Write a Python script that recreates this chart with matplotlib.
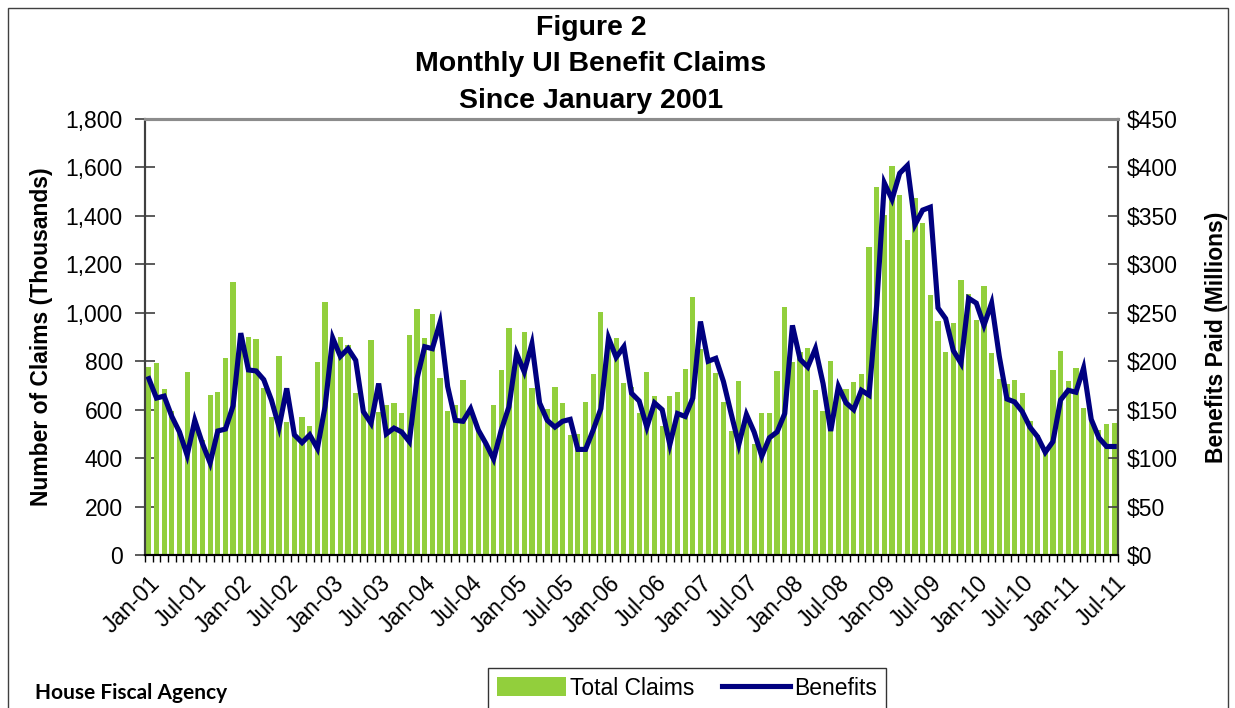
import numpy as np
import pandas as pd
import matplotlib
matplotlib.use("Agg")
import matplotlib.pyplot as plt
from matplotlib.patches import Rectangle
from matplotlib.ticker import FuncFormatter, FixedLocator

plt.rcParams['font.family'] = ['Liberation Sans', 'DejaVu Sans']

# monthly data, Jan-2001 .. Jul-2011
months = pd.date_range('2001-01-01', periods=127, freq='MS')
claims = [777, 791, 684, 596, 508, 754, 556, 475, 660, 674, 815, 1126,
          905, 898, 890, 688, 568, 821, 550, 500, 568, 532, 798, 1046,
          890, 898, 867, 670, 592, 887, 589, 619, 626, 585, 908, 1014,
          894, 995, 732, 594, 619, 722, 600, 516, 460, 619, 764, 936,
          832, 919, 688, 628, 601, 692, 626, 495, 498, 630, 747, 1004,
          896, 894, 709, 695, 588, 757, 658, 534, 658, 672, 766, 1064,
          850, 800, 750, 633, 512, 720, 580, 457, 588, 585, 761, 1025,
          797, 837, 853, 681, 596, 802, 696, 684, 713, 749, 1270, 1521,
          1402, 1606, 1486, 1300, 1473, 1369, 1072, 965, 839, 956, 1135, 1078,
          970, 1111, 835, 725, 705, 722, 667, 553, 495, 424, 764, 842,
          720, 773, 608, 560, 516, 541, 546]
benefits = [182, 162, 164, 143, 127, 103, 139, 115, 95, 128, 130, 154,
            229, 191, 190, 181, 160, 132, 172, 124, 116, 124, 110, 153,
            224, 205, 213, 201, 148, 136, 177, 125, 131, 127, 117, 182,
            215, 213, 240, 174, 139, 138, 151, 129, 115, 99, 129, 153,
            208, 189, 218, 157, 139, 132, 138, 140, 109, 109, 129, 151,
            224, 204, 215, 167, 159, 132, 157, 150, 114, 146, 143, 162,
            241, 200, 203, 179, 146, 114, 145, 127, 102, 121, 127, 146,
            237, 202, 194, 213, 177, 128, 174, 157, 150, 170, 165, 258,
            384, 367, 394, 402, 341, 356, 359, 255, 244, 211, 198, 265,
            260, 237, 260, 205, 161, 158, 148, 132, 122, 106, 117, 160,
            170, 168, 193, 140, 121, 112, 112]
labels = [d.strftime('%b-%y') for d in months]

bar_color = '#92CF3C'
line_color = '#000080'

fig = plt.figure(figsize=(12.35, 7.08), dpi=100)
ax = fig.add_axes([0.1174, 0.2161, 0.7879, 0.6158])
ax2 = ax.twinx()

x = np.arange(len(claims))
bars = ax.bar(x, claims, width=0.68, color=bar_color, label='Total Claims', zorder=2)
line, = ax2.plot(x, benefits, color=line_color, lw=3.7, label='Benefits',
                 solid_joinstyle='miter')

ax.set_xlim(-0.5, len(claims) - 0.5)
ax.set_ylim(0, 1800)
ax2.set_ylim(0, 450)
ax.set_yticks(np.arange(0, 1801, 200))
ax2.set_yticks(np.arange(0, 451, 50))
ax.yaxis.set_major_formatter(FuncFormatter(lambda v, p: f'{int(v):,}'))
ax2.yaxis.set_major_formatter(FuncFormatter(lambda v, p: f'${int(v)}'))

major = x[::6]
ax.set_xticks(major)
ax.set_xticklabels([labels[i] for i in major], rotation=45, ha='right',
                   rotation_mode='anchor', fontsize=16.5)
ax.xaxis.set_minor_locator(FixedLocator(np.arange(-0.5, len(claims), 1)))
ax.tick_params(axis='x', which='major', length=0, pad=12)
ax.tick_params(axis='x', which='minor', length=5, width=1, direction='out', color='black')
ax.tick_params(axis='y', labelsize=16.5, direction='inout', length=14, width=1.2,
               color='#404040', pad=9)
ax2.tick_params(axis='y', labelsize=16.5, direction='in', length=7, width=1.2,
                color='#404040', pad=6)

for a in (ax, ax2):
    a.spines['top'].set_color('#8c8c8c')
    a.spines['top'].set_linewidth(2.2)
    a.spines['left'].set_color('#404040')
    a.spines['left'].set_linewidth(1.5)
    a.spines['right'].set_color('#404040')
    a.spines['right'].set_linewidth(1.5)
    a.spines['bottom'].set_color('black')
    a.spines['bottom'].set_linewidth(1.5)

ax.set_ylabel('Number of Claims (Thousands)', fontsize=16.5, fontweight='bold', labelpad=9)
ax2.set_ylabel('Benefits Paid (Millions)', fontsize=16.5, fontweight='bold', labelpad=20)

fig.text(591 / 1235, 0.979, 'Figure 2\nMonthly UI Benefit Claims\nSince January 2001',
         ha='center', va='top', fontsize=20.5, fontweight='bold', linespacing=1.52)

leg = fig.legend([bars, line], ['Total Claims', 'Benefits'], loc='center',
                 bbox_to_anchor=(687 / 1235, 0.028), ncol=2, fontsize=16.5, frameon=True,
                 fancybox=False, edgecolor='black', handlelength=3.0, handleheight=0.9,
                 handletextpad=0.15, columnspacing=1.2, borderpad=0.4)
leg.get_frame().set_linewidth(1.0)

fig.text(35 / 1235, 1 - 693 / 708, 'House Fiscal Agency', ha='left', va='center',
         fontsize=15, fontweight='bold', family=['Lato', 'DejaVu Sans'])

fig.patches.append(Rectangle((7.5 / 1235, -0.02), 1220 / 1235, 1.02 - 8 / 708,
                             transform=fig.transFigure, fill=False,
                             edgecolor='#404040', lw=1.0))

fig.savefig('out.png', dpi=100)
